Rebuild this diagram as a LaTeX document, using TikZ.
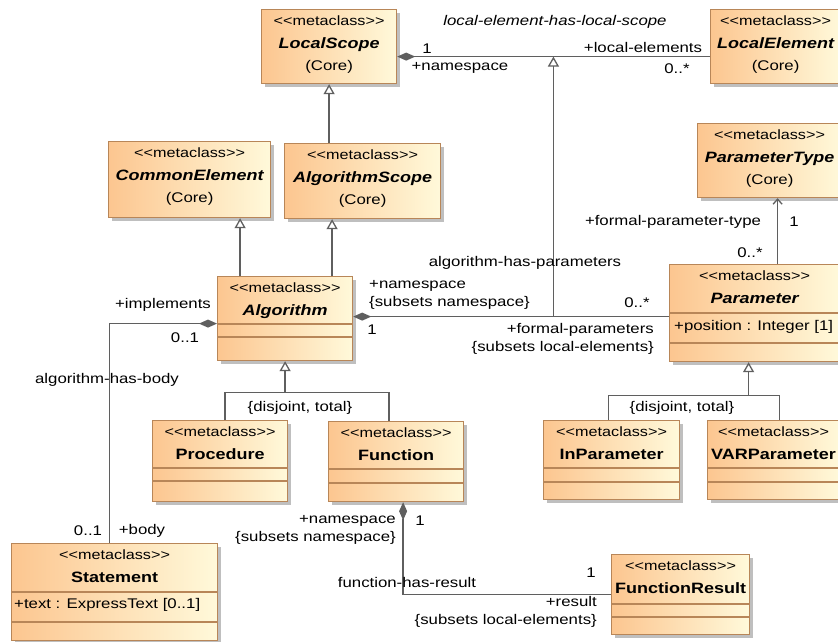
\documentclass[tikz,border=0pt]{standalone}
\usepackage{fontspec}
\setmainfont{Liberation Sans}[FakeStretch=1.2]
\usetikzlibrary{arrows.meta,shadows,positioning}

\definecolor{clsleft}{RGB}{252,198,144}
\definecolor{clsright}{RGB}{255,249,218}
\definecolor{clsborder}{RGB}{184,134,88}
\definecolor{linegray}{RGB}{95,95,95}

% stereotype text, kept apart from the << ligature
\newcommand{\stereo}[1]{{\fontsize{13.5}{22.5}\selectfont<\kern0pt<#1>\kern0pt>}}
\newcommand{\clsname}[1]{{\fontsize{15}{22.5}\selectfont\bfseries #1}}

\begin{document}
\begin{tikzpicture}[x=1pt, y=-1pt,
    every node/.style={font=\fontsize{14}{18}\selectfont, inner sep=0pt},
    metaclass/.style={draw=clsborder, line width=1.2pt, left color=clsleft, right color=clsright,
        anchor=north west, drop shadow={shadow xshift=3pt, shadow yshift=-3pt, fill=black!25, opacity=1}},
    title/.style={anchor=north, align=center, font=\fontsize{14}{22.5}\selectfont},
    part/.style={draw=clsborder, line width=1.2pt},
    rel/.style={draw=linegray, line width=1.3pt},
    gen/.style={rel, arrows={-Triangle[open, length=10pt, width=11pt]}},
    comp/.style={rel, arrows={Diamond[length=18pt, width=8pt]-}},
    nav/.style={rel, arrows={-Straight Barb[length=5pt, width=9pt]}}]

        % Setup the page
        \useasboundingbox (0,0) rectangle (838,641);
        \fill[white] (0,0) rectangle (838,641);

        % Core classes
        \node[metaclass, minimum width=135pt, minimum height=74pt] (lscope) at (261,9) {};
        \node[metaclass, minimum width=130pt, minimum height=74pt] (lelem) at (710,9) {};
        \node[metaclass, minimum width=144pt, minimum height=74pt] (ptype) at (697,123) {};
        \node[metaclass, minimum width=162pt, minimum height=76pt] (celem) at (108,141) {};
        \node[metaclass, minimum width=156pt, minimum height=75pt] (ascope) at (284,143) {};

        % Algorithm classes
        \node[metaclass, minimum width=135pt, minimum height=84pt] (algo) at (217,276) {};
        \node[metaclass, minimum width=170pt, minimum height=97pt] (param) at (669,264) {};
        \node[metaclass, minimum width=135pt, minimum height=81pt] (proc) at (152,420) {};
        \node[metaclass, minimum width=135pt, minimum height=80pt] (func) at (328,421) {};
        \node[metaclass, minimum width=136pt, minimum height=79pt] (inparam) at (543,420) {};
        \node[metaclass, minimum width=132pt, minimum height=79pt] (varparam) at (707,420) {};
        \node[metaclass, minimum width=206pt, minimum height=97pt] (stmt) at (11,543) {};
        \node[metaclass, minimum width=138pt, minimum height=80pt] (fres) at (611,554) {};

        % Compartments
        \foreach \n/\a/\b in {algo/48/61, param/49/79, proc/48/61, func/48/62,
                inparam/48/62, varparam/48/62, stmt/49/79, fres/50/63} {
            \draw[part] ([yshift=-\a pt]\n.north west) -- ([yshift=-\a pt]\n.north east);
            \draw[part] ([yshift=-\b pt]\n.north west) -- ([yshift=-\b pt]\n.north east);
        }

        % Class titles
        \node[title] (lscope-t) at ([yshift=-7pt]lscope.north) {\stereo{metaclass}\\\clsname{\itshape LocalScope}\\(Core)};
        \node[title] (lelem-t) at ([yshift=-7pt]lelem.north) {\stereo{metaclass}\\\clsname{\itshape LocalElement}\\(Core)};
        \node[title] (ptype-t) at ([yshift=-7pt]ptype.north) {\stereo{metaclass}\\\clsname{\itshape ParameterType}\\(Core)};
        \node[title] (celem-t) at ([yshift=-7pt]celem.north) {\stereo{metaclass}\\\clsname{\itshape CommonElement}\\(Core)};
        \node[title] (ascope-t) at ([yshift=-7pt]ascope.north) {\stereo{metaclass}\\\clsname{\itshape AlgorithmScope}\\(Core)};
        \node[title] (algo-t) at ([yshift=-7pt]algo.north) {\stereo{metaclass}\\\clsname{\itshape Algorithm}};
        \node[title] (param-t) at ([yshift=-7pt]param.north) {\stereo{metaclass}\\\clsname{\itshape Parameter}};
        \node[title] (proc-t) at ([yshift=-7pt]proc.north) {\stereo{metaclass}\\\clsname{Procedure}};
        \node[title] (func-t) at ([yshift=-7pt]func.north) {\stereo{metaclass}\\\clsname{Function}};
        \node[title] (inparam-t) at ([yshift=-7pt]inparam.north) {\stereo{metaclass}\\\clsname{InParameter}};
        \node[title] (varparam-t) at ([yshift=-7pt]varparam.north) {\stereo{metaclass}\\\clsname{VARParameter}};
        \node[title] (stmt-t) at ([yshift=-7pt]stmt.north) {\stereo{metaclass}\\\clsname{Statement}};
        \node[title] (fres-t) at ([yshift=-7pt]fres.north) {\stereo{metaclass}\\\clsname{FunctionResult}};

        % Attributes
        \node[anchor=west] (param-a) at ([xshift=5pt, yshift=-63pt]param.north west) {+position : Integer [1]};
        \node[anchor=west] (stmt-a) at ([xshift=3pt, yshift=-62pt]stmt.north west) {+text : ExpressText [0..1]};

        % Generalizations
        \draw[gen] (ascope.north -| lscope.south) -- (lscope.south);
        \coordinate (algo-ce) at ([xshift=-45pt]algo.north);
        \coordinate (algo-as) at ([xshift=47pt]algo.north);
        \draw[gen] (algo-ce) -- (algo-ce |- celem.south);
        \draw[gen] (algo-as) -- (algo-as |- ascope.south);

        \coordinate (proc-g) at ([xshift=5pt]proc.north);
        \coordinate (func-g) at ([xshift=-7pt]func.north);
        \coordinate (algo-g) at ([yshift=-31pt]algo.south);
        \draw[rel] (proc-g) |- (algo-g) -| (func-g);
        \draw[gen] (algo-g) -- (algo.south);

        \coordinate (inparam-g) at ([xshift=-3pt]inparam.north);
        \coordinate (varparam-g) at ([xshift=6pt]varparam.north);
        \coordinate (param-g) at ([xshift=-6pt, yshift=-33pt]param.south);
        \draw[rel] (inparam-g) |- (param-g) -| (varparam-g);
        \draw[gen] (param-g) -- (param-g |- param.south);

        % Associations
        \coordinate (ls-le) at ([yshift=-10pt]lscope.east);
        \draw[comp] (ls-le) -- (ls-le -| lelem.west);
        \coordinate (al-pa) at ([yshift=2pt]algo.east);
        \draw[comp] (al-pa) -- (al-pa -| param.west) coordinate[pos=0.634] (al-pa-g);
        \draw[gen] (al-pa-g) -- (al-pa-g |- ls-le);
        \coordinate (param-pt) at ([xshift=23pt]param.north);
        \draw[nav] (param-pt) -- (param-pt |- ptype.south);
        \coordinate (al-st) at ([yshift=-5pt]algo.west);
        \coordinate (st-al) at ([xshift=-5pt]stmt.north);
        \draw[comp] (al-st) -| (st-al);
        \coordinate (fn-fr) at ([xshift=7pt]func.south);
        \draw[comp] (fn-fr) |- (fres.west);

        % Association labels
        \node (lbl-lels) at (555,22) {\itshape local-element-has-local-scope};
        \node (lbl-ls1) at (427,49) {1};
        \node (lbl-lsns) at (460,68) {+namespace};
        \node (lbl-lele) at (643,47) {+local-elements};
        \node (lbl-lem) at (677,69) {0..*};

        \node (lbl-fpt) at (673,222) {+formal-parameter-type};
        \node (lbl-pt1) at (794,222) {1};
        \node (lbl-ptm) at (750,253) {0..*};

        \node (lbl-ahp) at (525,263) {algorithm-has-parameters};
        \node[anchor=north west, align=left] (lbl-alns) at (369,280) {+namespace\\\{subsets namespace\}};
        \node (lbl-al1) at (372,330) {1};
        \node (lbl-pm) at (637,303) {0..*};
        \node[anchor=north east, align=right] (lbl-fp) at (654,323) {+formal-parameters\\\{subsets local-elements\}};

        \node (lbl-impl) at (163,305) {+implements};
        \node (lbl-alm) at (185,338) {0..1};
        \node (lbl-ahb) at (107,380) {algorithm-has-body};
        \node (lbl-stm) at (88,531) {0..1};
        \node (lbl-body) at (142,531) {+body};

        \node (lbl-dt1) at (300,408) {\{disjoint, total\}};
        \node (lbl-dt2) at (682,408) {\{disjoint, total\}};

        \node[anchor=north east, align=right] (lbl-fns) at (396,515) {+namespace\\\{subsets namespace\}};
        \node (lbl-f1) at (420,521) {1};
        \node (lbl-fhr) at (407,582) {function-has-result};
        \node (lbl-fr1) at (591,573) {1};
        \node[anchor=north east, align=right] (lbl-res) at (597,596) {+result\\\{subsets local-elements\}};

    \end{tikzpicture}
\end{document}
